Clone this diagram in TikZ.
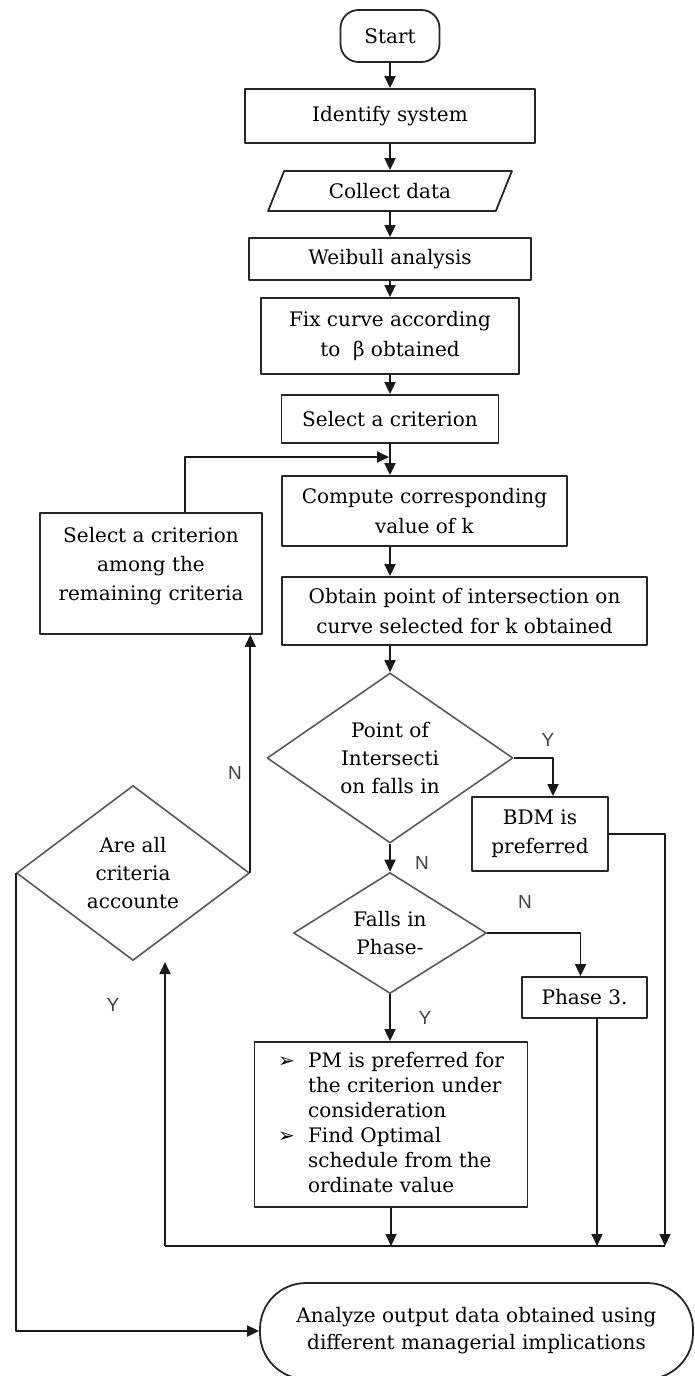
\documentclass[tikz,border=0pt]{standalone}
\usepackage{fontspec}
\setmainfont{DejaVu Serif}
\newfontfamily\ynfont{Liberation Sans}
\newfontfamily\dingfont{DejaVu Sans}
\usetikzlibrary{shapes.geometric,arrows.meta}
\begin{document}
\begin{tikzpicture}[x=1pt, y=-1pt, line join=round, >={Triangle[length=12pt,width=11pt]},
	box/.style={draw=black!85, line width=1.8pt, inner sep=0pt, align=center, font=\fontsize{20}{30}\selectfont},
	dia/.style={diamond, draw=black!65, line width=1.6pt, inner sep=0pt, align=center, font=\fontsize{20}{28}\selectfont},
	yn/.style={font=\ynfont\fontsize{19}{20}\selectfont, text=black!75},
	arr/.style={->, line width=1.8pt, draw=black!90}]
	\useasboundingbox (0,0) rectangle (695,1376);
	% main column
	\node[box, rounded corners=18pt, minimum width=99, minimum height=52] (start) at (390,36) {Start};
	\node[box, minimum width=290, minimum height=54] (ident) at (390,116) {Identify system};
	\node[box, trapezium, trapezium left angle=59, trapezium right angle=121, trapezium stretches=true, minimum width=244, minimum height=40] (coll) at (390,191) {Collect data};
	\node[box, minimum width=282, minimum height=42] (weib) at (390,259) {Weibull analysis};
	\node[box, minimum width=258, minimum height=76] (fix) at (390,336) {Fix curve according\\to~~β obtained};
	\node[box, minimum width=217, minimum height=48] (sel) at (390,419) {Select a criterion};
	\node[box, minimum width=285, minimum height=70] (comp) at (424.5,511) {Compute corresponding\\value of k};
	\node[box, minimum width=365, minimum height=68] (obt) at (464.5,611) {Obtain point of intersection on\\curve selected for k obtained};
	\node[dia, minimum width=246, minimum height=170, shape aspect=1.45] (d1) at (390,758) {Point of\\Intersecti\\on falls in};
	\node[box, minimum width=136, minimum height=74, font=\fontsize{20}{29}\selectfont] (bdm) at (540,834) {BDM is\\preferred};
	\node[dia, minimum width=193, minimum height=121, shape aspect=1.6] (d2) at (390,933) {Falls in\\Phase-};
	\node[box, minimum width=125, minimum height=41] (ph3) at (584.5,997.5) {Phase 3.};
	\node[box, minimum width=273, minimum height=165, font=\fontsize{20}{25}\selectfont] (pm) at (391,1124.5) {\begin{tabular}{@{}p{30pt}@{}l@{}}
		{\dingfont\fontsize{20}{25}\selectfont ➢} & PM is preferred for\\
		& the criterion under\\
		& consideration\\
		{\dingfont\fontsize{20}{25}\selectfont ➢} & Find Optimal\\
		& schedule from the\\
		& ordinate value
	\end{tabular}};
	% left loop
	\node[box, minimum width=222, minimum height=121, font=\fontsize{20}{29}\selectfont, text depth=19pt] (rem) at (151,573.5) {Select a criterion\\among the\\remaining criteria};
	\node[dia, minimum width=233, minimum height=175, shape aspect=1.33] (d3) at (133,873) {Are all\\criteria\\accounte};
	\node[box, rounded corners=46pt, minimum width=433, minimum height=96, font=\fontsize{20}{27}\selectfont] (ana) at (476.5,1331) {Analyze output data obtained using\\different managerial implications};
	\coordinate (J) at (389,457);
	\coordinate (B1) at (165,1246);
	\coordinate (B2) at (665,1246);
	\coordinate (U) at (165,962);
	% connectors
	\draw[arr] (start) -- (ident);
	\draw[arr] (ident) -- (coll);
	\draw[arr] (coll) -- (weib);
	\draw[arr] (weib) -- (fix);
	\draw[arr] (fix) -- (sel);
	\draw[arr] (sel) -- (sel |- comp.north);
	\draw[arr] ([xshift=34pt]rem.north) |- (J);
	\draw[arr] (sel |- comp.south) -- (sel |- obt.north);
	\draw[arr] (d1 |- obt.south) -- (d1);
	\draw[arr] (d1.east) -| ([xshift=13pt]bdm.north);
	\draw[arr] (d1) -- (d2);
	\draw[arr] (d2.east) -| ([xshift=-4pt]ph3.north);
	\draw[arr] (d2) -- (d2 |- pm.north);
	\draw[arr] (bdm.east) -| (B2);
	\draw[arr] ([xshift=12.5pt]ph3.south) -- ([xshift=12.5pt]ph3.south |- B2);
	\draw[arr] (pm.south) -- (pm.south |- B2);
	\draw[line width=1.8pt, draw=black!90] (B1) -- (B2);
	\draw[arr] (B1) -- (U);
	\draw[arr] (d3.east) -- (d3.east |- rem.south);
	\draw[arr] (d3.west) |- (ana.west);
	% Y / N
	\node[yn] (y1) at (548,740) {Y};
	\node[yn] (n1) at (422,863) {N};
	\node[yn] (n2) at (525,902) {N};
	\node[yn] (y2) at (425,1018) {Y};
	\node[yn] (n3) at (235,773) {N};
	\node[yn] (y3) at (113,1005) {Y};
\end{tikzpicture}
\end{document}
